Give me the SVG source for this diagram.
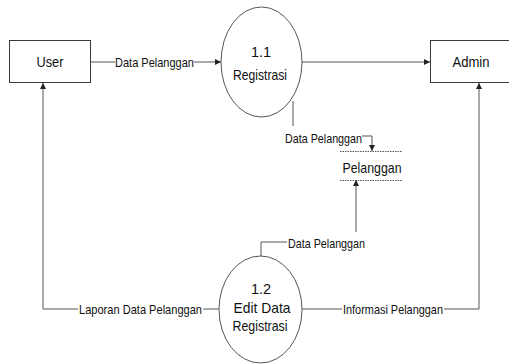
<svg xmlns="http://www.w3.org/2000/svg" width="509" height="364" viewBox="0 0 509 364">
  <style>
    .box { fill: #ffffff; stroke: #3a3a3a; stroke-width: 1; }
    .proc { fill: #ffffff; stroke: #555555; stroke-width: 1; }
    .line { fill: none; stroke: #555555; stroke-width: 1; }
    .store { stroke: #555555; stroke-width: 1; stroke-dasharray: 1.5 1; }
    text { font-family: "Liberation Sans", Arial, sans-serif; fill: #111111; }
    .lbl { font-size: 13px; }
    .name { font-size: 14.5px; text-anchor: middle; }
  </style>
  <defs>
    <marker id="arrow" viewBox="0 0 6 6" refX="6" refY="3" markerWidth="6" markerHeight="6" markerUnits="userSpaceOnUse" orient="auto">
      <path d="M0,0 L6,3 L0,6 z" fill="#222222"/>
    </marker>
  </defs>
  <rect width="509" height="364" fill="#ffffff"/>

  <!-- data flows -->
  <g id="connectors">
    <!-- User -> 1.1 -->
    <path class="line" d="M91,62 H115"/>
    <path class="line" d="M194,62 H221" marker-end="url(#arrow)"/>
    <!-- 1.1 -> Admin -->
    <path class="line" d="M302,62 H430" marker-end="url(#arrow)"/>
    <!-- 1.1 -> Pelanggan -->
    <path class="line" d="M293,101 V126"/>
    <path class="line" d="M362,136 H372 V151" marker-end="url(#arrow)"/>
    <!-- 1.2 -> Pelanggan -->
    <path class="line" d="M261,256 V242 H287"/>
    <path class="line" d="M356,232 V180" marker-end="url(#arrow)"/>
    <!-- 1.2 -> User -->
    <path class="line" d="M219,309 H203"/>
    <path class="line" d="M78,309 H43 V83" marker-end="url(#arrow)"/>
    <!-- 1.2 -> Admin -->
    <path class="line" d="M302,309 H342"/>
    <path class="line" d="M444,309 H479 V83" marker-end="url(#arrow)"/>

    <text class="lbl" x="115" y="66.5" textLength="79" lengthAdjust="spacingAndGlyphs">Data Pelanggan</text>
    <text class="lbl" x="285" y="142.5" textLength="77" lengthAdjust="spacingAndGlyphs">Data Pelanggan</text>
    <text class="lbl" x="288" y="247.5" textLength="77" lengthAdjust="spacingAndGlyphs">Data Pelanggan</text>
    <text class="lbl" x="79" y="313.5" textLength="123" lengthAdjust="spacingAndGlyphs">Laporan Data Pelanggan</text>
    <text class="lbl" x="343" y="313.5" textLength="100" lengthAdjust="spacingAndGlyphs">Informasi Pelanggan</text>
  </g>

  <g id="user">
    <rect class="box" x="9.5" y="40.5" width="81" height="42"/>
    <text class="name" x="50" y="67" textLength="27" lengthAdjust="spacingAndGlyphs">User</text>
  </g>

  <g id="admin">
    <rect class="box" x="430.5" y="40.5" width="90" height="42"/>
    <text class="name" x="471" y="67" textLength="37" lengthAdjust="spacingAndGlyphs">Admin</text>
  </g>

  <g id="proc-1-1">
    <ellipse class="proc" cx="261.5" cy="62" rx="40.5" ry="55"/>
    <text class="name" x="261" y="57">1.1</text>
    <text class="name" x="260" y="80" textLength="54" lengthAdjust="spacingAndGlyphs">Registrasi</text>
  </g>

  <g id="store-pelanggan">
    <line class="store" x1="340" y1="151.5" x2="402" y2="151.5"/>
    <line class="store" x1="340" y1="180.5" x2="402" y2="180.5"/>
    <text class="name" x="372" y="173" textLength="59" lengthAdjust="spacingAndGlyphs">Pelanggan</text>
  </g>

  <g id="proc-1-2">
    <ellipse class="proc" cx="260.5" cy="309.5" rx="41.5" ry="53.5"/>
    <text class="name" x="261" y="294">1.2</text>
    <text class="name" x="262" y="313" textLength="57" lengthAdjust="spacingAndGlyphs">Edit Data</text>
    <text class="name" x="260" y="331" textLength="55" lengthAdjust="spacingAndGlyphs">Registrasi</text>
  </g>
</svg>
